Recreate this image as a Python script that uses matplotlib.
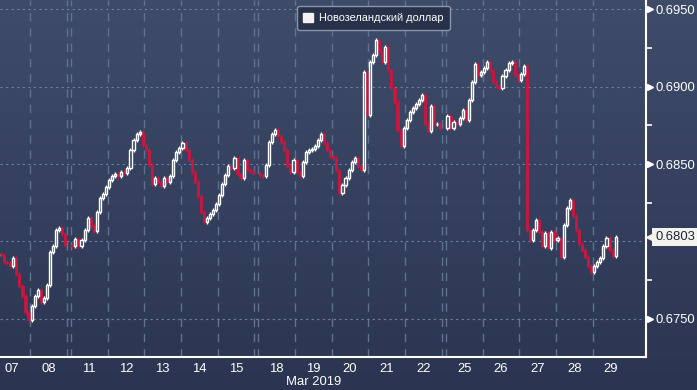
import numpy as np
import matplotlib
matplotlib.use("Agg")
import matplotlib.pyplot as plt
from matplotlib.patches import Patch
from matplotlib.colors import LinearSegmentedColormap

# ---------------- data ----------------
days = ["07", "08", "11", "12", "13", "14", "15", "18", "19", "20",
        "21", "22", "25", "26", "27", "28", "29"]
week_of_day = [0, 0, 1, 1, 1, 1, 1, 2, 2, 2, 2, 2, 3, 3, 3, 3, 3]
month_label = "Mar 2019"
series_name = "Новозеландский доллар"
last_value = 0.6803

# closing prices, 12 intraday bars per day (last day partial)
closes_by_day = [
    [0.67905, 0.67918, 0.67912, 0.67866, 0.67860, 0.67841, 0.67892, 0.67789, 0.67711, 0.67647, 0.67543, 0.67491],
    [0.67582, 0.67647, 0.67685, 0.67608, 0.67634, 0.67718, 0.67931, 0.67970, 0.68073, 0.68086, 0.68048, 0.67976],
    [0.67970, 0.68015, 0.67970, 0.68009, 0.68073, 0.68151, 0.68099, 0.68067, 0.68190, 0.68280, 0.68306, 0.68352],
    [0.68397, 0.68423, 0.68436, 0.68423, 0.68449, 0.68442, 0.68474, 0.68591, 0.68656, 0.68694, 0.68707, 0.68623],
    [0.68591, 0.68494, 0.68371, 0.68410, 0.68384, 0.68358, 0.68410, 0.68384, 0.68423, 0.68526, 0.68578, 0.68604],
    [0.68636, 0.68591, 0.68526, 0.68449, 0.68384, 0.68293, 0.68190, 0.68125, 0.68151, 0.68177, 0.68203, 0.68242],
    [0.68300, 0.68371, 0.68429, 0.68487, 0.68474, 0.68539, 0.68436, 0.68410, 0.68526, 0.68461, 0.68455, 0.68442],
    [0.68429, 0.68423, 0.68494, 0.68643, 0.68694, 0.68720, 0.68681, 0.68643, 0.68591, 0.68487, 0.68449, 0.68526],
    [0.68449, 0.68423, 0.68513, 0.68578, 0.68591, 0.68597, 0.68617, 0.68656, 0.68694, 0.68636, 0.68591, 0.68552],
    [0.68539, 0.68461, 0.68313, 0.68365, 0.68410, 0.68461, 0.68513, 0.68539, 0.68487, 0.68461, 0.69095, 0.68817],
    [0.69160, 0.69205, 0.69302, 0.69225, 0.69160, 0.69257, 0.69108, 0.68992, 0.68901, 0.68720, 0.68617, 0.68733],
    [0.68785, 0.68837, 0.68862, 0.68888, 0.68914, 0.68947, 0.68759, 0.68714, 0.68875, 0.68759, 0.68759, 0.68733],
    [0.68811, 0.68733, 0.68772, 0.68759, 0.68798, 0.68850, 0.68785, 0.68914, 0.69031, 0.69147, 0.69076, 0.69095],
    [0.69121, 0.69160, 0.69108, 0.69031, 0.69005, 0.68992, 0.69069, 0.69108, 0.69154, 0.69160, 0.69076, 0.69044],
    [0.69082, 0.69134, 0.68073, 0.68009, 0.68073, 0.68138, 0.68060, 0.67970, 0.68054, 0.67957, 0.68060, 0.68009],
    [0.68022, 0.67899, 0.68106, 0.68216, 0.68267, 0.68164, 0.68073, 0.67983, 0.67944, 0.67899, 0.67841, 0.67802],
    [0.67841, 0.67866, 0.67892, 0.67970, 0.68022, 0.67944, 0.67905, 0.68030],
]
first_open = 0.67890

y_major = [0.6750, 0.6800, 0.6850, 0.6900, 0.6950]
y_minor = [0.6775, 0.6825, 0.6875, 0.6925]

# ---------------- style ----------------
BARS_PER_DAY = 12
WEEK_GAP = 0.11
UP = "white"
DOWN = "#c8173f"
GRID_V = "#5d7391"
GRID_H = "#6f819c"
TXT = "white"
FS = 9.4
plt.rcParams["font.family"] = ["Liberation Sans", "DejaVu Sans"]

W, H = 697, 390
fig = plt.figure(figsize=(W / 100, H / 100), dpi=100)

# gradient background
bg = fig.add_axes([0, 0, 1, 1], zorder=-10)
cmap = LinearSegmentedColormap.from_list("bg", ["#3e4c6a", "#2b3552"])
bg.imshow(np.linspace(0, 1, 256).reshape(-1, 1), aspect="auto", cmap=cmap,
          extent=[0, 1, 0, 1])
bg.set_axis_off()

ax = fig.add_axes([0, 33 / H, 646 / W, 1 - 33 / H])
ax.set_facecolor("none")

day_start = [k + WEEK_GAP * week_of_day[k] for k in range(len(days))]

# build OHLC
xs, opens, closes = [], [], []
prev = first_open
for k, vals in enumerate(closes_by_day):
    for j, c in enumerate(vals):
        xs.append(day_start[k] + (j + 0.5) / BARS_PER_DAY)
        opens.append(prev)
        closes.append(c)
        prev = c
xs = np.array(xs); opens = np.array(opens); closes = np.array(closes)
wick = 0.00012
highs = np.maximum(opens, closes) + wick
lows = np.minimum(opens, closes) - wick

bw = 0.7 / BARS_PER_DAY
up = closes >= opens
dn = ~up
ax.vlines(xs[up], lows[up], highs[up], color=UP, lw=1.0, zorder=3)
ax.vlines(xs[dn], lows[dn], highs[dn], color=DOWN, lw=1.0, zorder=3)
hgt = np.maximum(np.abs(closes - opens), 0.00002)
ax.bar(xs[dn], hgt[dn], bottom=np.minimum(opens, closes)[dn], width=bw,
       color=DOWN, edgecolor=DOWN, lw=0.6, zorder=4)
ax.bar(xs[up], hgt[up], bottom=np.minimum(opens, closes)[up], width=bw,
       facecolor="#34415e", edgecolor=UP, lw=1.0, zorder=5)

# axes limits
ax.set_xlim(0.18, 0.18 + 646 / 36.7)
ax.set_ylim(0.67252, 0.69561)

# vertical day separators (double at weekends)
for k in range(1, len(days)):
    ax.axvline(day_start[k], color=GRID_V, lw=1.0, ls=(0, (6, 5)), zorder=1)
    if week_of_day[k] != week_of_day[k - 1]:
        ax.axvline(day_start[k - 1] + 1, color=GRID_V, lw=1.0, ls=(0, (6, 5)), zorder=1)
# horizontal grid
for v in y_major:
    ax.axhline(v, color=GRID_H, lw=0.8, ls=(0, (2, 3)), zorder=1)

# spines
for s in ["top", "left"]:
    ax.spines[s].set_visible(False)
for s in ["right", "bottom"]:
    ax.spines[s].set_color("white")
    ax.spines[s].set_linewidth(1.5)

# x ticks (labels centered in each day)
ax.set_xticks([d + 0.5 for d in day_start])
ax.set_xticklabels(days)
ax.tick_params(axis="x", length=0, colors=TXT, labelsize=FS, pad=4)

# y ticks on right
ax.yaxis.tick_right()
ax.set_yticks(y_major)
ax.set_yticklabels(["" if abs(v - 0.68) < 1e-9 else f"{v:.4f}" for v in y_major])
ax.set_yticks(y_minor, minor=True)
ax.tick_params(axis="y", which="major", length=0, colors=TXT, labelsize=FS, pad=7)
ax.tick_params(axis="y", which="minor", length=4, width=1.2, colors="white")
ytr = ax.get_yaxis_transform()
for v in y_major:
    if abs(v - 0.68) < 1e-9:
        continue
    ax.plot([1.0 + 4 / 646], [v], marker=">", ms=5, color="white", mec="white",
            transform=ytr, clip_on=False, zorder=6)

# last value tag
ax.plot([1.0 + 5 / 646], [last_value], marker="<", ms=7, color="#f4f2ec",
        transform=ytr, clip_on=False, zorder=7)
ax.text(1.0 + 9 / 646, last_value, f"{last_value:.4f}", transform=ytr,
        va="center", ha="left", fontsize=FS, color="#1c2438", zorder=8,
        bbox=dict(boxstyle="square,pad=0.22", fc="#f4f2ec", ec="none"))

# month label
ax.text(day_start[8] + 0.5, -0.07, month_label, transform=ax.get_xaxis_transform(),
        ha="center", va="center", color=TXT, fontsize=FS)

# legend
leg = ax.legend(handles=[Patch(facecolor="#f4f0f2", edgecolor="#f4f0f2", label=series_name)],
                loc="center", bbox_to_anchor=(0.578, 0.95), frameon=True,
                fontsize=7.9, handlelength=0.9, handleheight=0.9, handletextpad=0.5,
                borderpad=0.6, fancybox=True)
fr = leg.get_frame()
fr.set_facecolor("#27314a")
fr.set_edgecolor("#8b94a8")
fr.set_alpha(1)
for t in leg.get_texts():
    t.set_color("white")

fig.savefig("out.png", dpi=100)
